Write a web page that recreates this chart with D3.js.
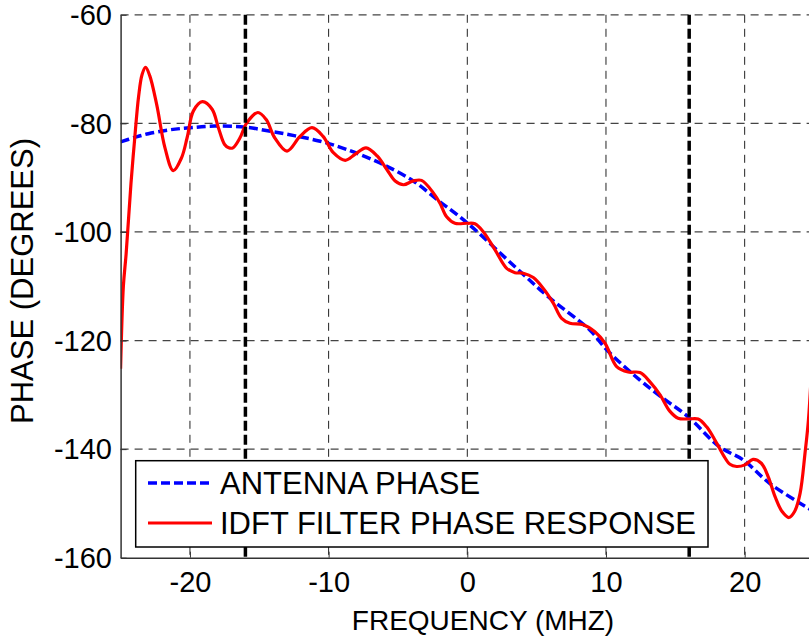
<!DOCTYPE html>
<html>
<head>
<meta charset="utf-8">
<script src="https://cdn.jsdelivr.net/npm/d3@7"></script>
<style>
  html, body { margin: 0; padding: 0; background: #fff; }
  svg { display: block; }
  text { font-family: "Liberation Sans", Arial, sans-serif; fill: #000; }
</style>
</head>
<body>
<svg id="chart" width="809" height="636"></svg>
<script>
// ---- Data ----
const xTicks = [-20, -10, 0, 10, 20];
const yTicks = [-160, -140, -120, -100, -80, -60];
const bandEdges = [-16, 16];
const seriesNames = ["ANTENNA PHASE", "IDFT FILTER PHASE RESPONSE"];

const antennaFreq  = [-25, -24, -23, -21.5, -20, -18.2, -16, -14.1, -12.4, -10.6, -8.7, -6.3, -3.9, -2, -1, 0.43, 3.56, 5.96, 8.85, 10.05, 12.45, 14.1, 15.9, 18.2, 19.9, 21.8, 24.6, 25];
const antennaPhase = [-83.4, -82.6, -81.9, -81.2, -80.8, -80.5, -80.7, -81.5, -82.3, -83.3, -84.8, -87.3, -90.6, -94.4, -96.3, -99.3, -106.7, -112.2, -118.1, -121.7, -127.3, -130.6, -134.0, -139.6, -142.0, -146.3, -150.9, -151.5];

const filterFreq  = [-25.0, -24.8, -24.6, -24.25, -24.0, -23.7, -23.45, -23.2, -22.9, -22.4, -21.8, -21.2, -20.6, -20.2, -19.75, -19.1, -18.4, -17.95, -17.5, -17.2, -16.9, -16.4, -15.9, -15.1, -14.5, -13.9, -13.0, -12.06, -11.2, -10.4, -9.66, -8.8, -8.1, -7.3, -6.5, -5.8, -5.2, -4.6, -3.9, -3.3, -2.45, -1.97, -1.49, -0.89, 0.0, 0.55, 1.15, 2.0, 2.84, 3.44, 4.04, 4.76, 5.48, 6.2, 6.8, 7.4, 8.36, 9.2, 9.93, 10.77, 11.6, 12.45, 13.17, 13.9, 14.6, 15.2, 15.9, 16.65, 17.26, 17.98, 18.46, 18.94, 19.42, 20.02, 20.6, 21.2, 21.7, 22.2, 22.7, 23.2, 23.6, 24.0, 24.35, 24.6, 24.85];
const filterPhase = [-125.2, -110, -104, -91, -83.3, -75, -71, -69.7, -71.2, -76.5, -84.5, -88.7, -86.3, -82.6, -77.7, -76.0, -77.4, -80.8, -83.9, -84.5, -84.5, -82.7, -79.9, -78.0, -79.3, -82.6, -85.1, -82.4, -80.8, -82.4, -85.4, -86.8, -85.7, -84.5, -86.0, -88.5, -90.6, -91.3, -90.6, -90.5, -92.8, -94.7, -97.2, -98.4, -98.4, -98.5, -99.95, -103.3, -106.7, -107.5, -107.6, -108.4, -110.4, -113.1, -115.9, -116.8, -117.1, -118.4, -120.5, -124.8, -125.8, -125.9, -127.6, -130.0, -133.0, -134.3, -134.45, -134.45, -135.9, -138.9, -141.1, -142.8, -143.2, -142.9, -141.9, -142.6, -145.1, -148.8, -151.5, -152.6, -151.5, -148.1, -140.8, -134.6, -124];

// ---- Layout ----
const svg = d3.select("#chart");
const L = 120.6, R = 814, T = 14.8, B = 557.7;
const x = d3.scaleLinear().domain([-25, 25]).range([L, R]);
const y = d3.scaleLinear().domain([-160, -60]).range([B, T]);
const fmt = d => String(d);

svg.append("rect").attr("width", 809).attr("height", 636).attr("fill", "#fff");

svg.append("defs").append("clipPath").attr("id", "plotclip")
  .append("rect").attr("x", L).attr("y", T - 2).attr("width", R - L).attr("height", B - T + 2);

// grid
const grid = svg.append("g");
grid.selectAll("line.v").data(xTicks).join("line")
  .attr("x1", d => x(d)).attr("x2", d => x(d)).attr("y1", T).attr("y2", B)
  .attr("stroke", "#222").attr("stroke-width", 1).attr("stroke-dasharray", "8,6");
grid.selectAll("line.h").data(yTicks.filter(v => v > -160)).join("line")
  .attr("x1", L).attr("x2", R).attr("y1", d => y(d)).attr("y2", d => y(d))
  .attr("stroke", "#444").attr("stroke-width", 1.2).attr("stroke-dasharray", "8,6");

// curves
const plot = svg.append("g").attr("clip-path", "url(#plotclip)");
const line = d3.line().x(d => x(d[0])).y(d => y(d[1])).curve(d3.curveCatmullRom.alpha(0.5));
plot.append("path")
  .attr("d", line(d3.zip(antennaFreq, antennaPhase)))
  .attr("fill", "none").attr("stroke", "#0000ff").attr("stroke-width", 3.5)
  .attr("stroke-dasharray", "9,4");
plot.append("path")
  .attr("d", line(d3.zip(filterFreq, filterPhase)))
  .attr("fill", "none").attr("stroke", "#ff0000").attr("stroke-width", 3.2)
  .attr("stroke-linejoin", "round");

// band edge lines
svg.append("g").selectAll("line").data(bandEdges).join("line")
  .attr("x1", d => x(d)).attr("x2", d => x(d)).attr("y1", T).attr("y2", B)
  .attr("stroke", "#000").attr("stroke-width", 3.5).attr("stroke-dasharray", "10,4");

// axes
const fs = 29;
const xAxis = svg.append("g").attr("transform", `translate(0,${B})`)
  .call(d3.axisBottom(x).tickValues(xTicks).tickFormat(fmt).tickSizeInner(-6).tickSizeOuter(0).tickPadding(10));
xAxis.select(".domain").attr("stroke", "#333").attr("stroke-width", 1.5);
xAxis.selectAll(".tick line").attr("stroke", "#333");
xAxis.selectAll(".tick text").attr("font-size", fs).attr("y", 34).attr("dy", 0)
  .attr("font-family", "Liberation Sans, Arial, sans-serif").attr("fill", "#000");

const yAxis = svg.append("g").attr("transform", `translate(${L},0)`)
  .call(d3.axisLeft(y).tickValues(yTicks).tickFormat(fmt).tickSizeInner(-6).tickSizeOuter(0).tickPadding(9));
yAxis.select(".domain").attr("stroke", "#333").attr("stroke-width", 1.5);
yAxis.selectAll(".tick line").attr("stroke", "#333");
yAxis.selectAll(".tick text").attr("font-size", fs).attr("x", -8.6).attr("dy", "0.34em")
  .attr("font-family", "Liberation Sans, Arial, sans-serif").attr("fill", "#000");

// axis titles
svg.append("text").attr("x", 483).attr("y", 630).attr("text-anchor", "middle")
  .attr("font-size", 28).text("FREQUENCY (MHZ)");
svg.append("text").attr("transform", "translate(33,281) rotate(-90)")
  .attr("text-anchor", "middle").attr("font-size", 31).text("PHASE (DEGREES)");

// legend
const lg = svg.append("g");
lg.append("rect").attr("x", 135.7).attr("y", 460.7).attr("width", 572.3).attr("height", 86.3)
  .attr("fill", "#fff").attr("stroke", "#000").attr("stroke-width", 1.5);
lg.append("line").attr("x1", 148).attr("x2", 210).attr("y1", 483).attr("y2", 483)
  .attr("stroke", "#0000ff").attr("stroke-width", 3.5).attr("stroke-dasharray", "9,4");
lg.append("line").attr("x1", 148).attr("x2", 212).attr("y1", 523).attr("y2", 523)
  .attr("stroke", "#ff0000").attr("stroke-width", 3.2);
lg.selectAll("text").data(seriesNames).join("text")
  .attr("x", 220).attr("y", (d, i) => 494 + i * 40).attr("font-size", 31).text(d => d);
</script>
</body>
</html>
